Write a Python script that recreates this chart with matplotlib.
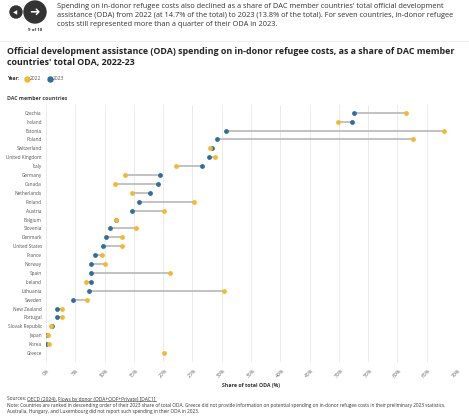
import numpy as np
import matplotlib.pyplot as plt
from matplotlib.patches import Circle
from matplotlib.lines import Line2D

plt.rcParams['font.family'] = ['Open Sans', 'DejaVu Sans']

# donnees (part de l'APD totale, %)
countries = ['Czechia', 'Ireland', 'Estonia', 'Poland', 'Switzerland', 'United Kingdom',
             'Italy', 'Germany', 'Canada', 'Netherlands', 'Finland', 'Austria', 'Belgium',
             'Slovenia', 'Denmark', 'United States', 'France', 'Norway', 'Spain', 'Iceland',
             'Lithuania', 'Sweden', 'New Zealand', 'Portugal', 'Slovak Republic', 'Japan',
             'Korea', 'Greece']
share_2022 = [61.4, 49.9, 68.0, 62.6, 28.0, 28.8, 22.2, 13.5, 11.8, 14.6, 25.3, 20.1, 12.0,
              15.4, 12.9, 12.9, 9.6, 10.0, 21.2, 6.8, 30.4, 7.0, 2.7, 2.7, 0.8, 0.3, 0.45, 20.2]
share_2023 = [52.6, 52.3, 30.8, 29.2, 28.3, 27.9, 26.7, 19.5, 19.1, 17.7, 15.9, 14.7, 11.9,
              11.0, 10.2, 9.7, 8.3, 7.7, 7.6, 7.6, 7.3, 4.6, 1.8, 1.8, 1.0, 0.2, 0.05, np.nan]
xticks = np.arange(0, 75, 5)
xticklabels = ['%d%%' % v for v in xticks]

c22 = '#F5B82A'
c23 = '#2E6E9E'
W, H = 469, 418

fig = plt.figure(figsize=(W/100, H/100), dpi=100)

def fx(px):
    return px / W

def fy(py):
    return 1 - py / H

# --- en-tete (boutons + texte) ---
# cercles en pouces (dpi_scale_trans) pour garder la forme ronde
fig.add_artist(Circle((16/100, (H-12)/100), 6/100, transform=fig.dpi_scale_trans, color='#333333'))
fig.add_artist(Circle((35/100, (H-12)/100), 11/100, transform=fig.dpi_scale_trans, color='#333333'))
fig.text(fx(15.5), fy(12.5), '◀', color='white', fontsize=4, ha='center', va='center',
         family=['DejaVu Sans'])
fig.text(fx(35), fy(12.5), '➜', color='white', fontsize=9, ha='center', va='center',
         family=['DejaVu Sans'])
fig.text(fx(35), fy(30), '9 of 10', fontsize=3.2, ha='center', va='center',
         color='#333333', weight='bold')
para = ("Spending on in-donor refugee costs also declined as a share of DAC member countries' total official development\n"
        "assistance (ODA) from 2022 (at 14.7% of the total) to 2023 (13.8% of the total). For seven countries, in-donor refugee\n"
        "costs still represented more than a quarter of their ODA in 2023.")
fig.text(fx(57), fy(3), para, fontsize=5.3, ha='left', va='top', color='#333333',
         linespacing=1.35)
fig.add_artist(Line2D([0, 1], [fy(41), fy(41)], color='#eeeeee', lw=0.8,
                      transform=fig.transFigure))

fig.text(fx(7), fy(46.5), "Official development assistance (ODA) spending on in-donor refugee costs, as a share of DAC member\n"
         "countries' total ODA, 2022-23", fontsize=6.4, weight='bold', ha='left', va='top',
         color='#222222', linespacing=1.35)

# legende
fig.text(fx(7), fy(79), 'Year:', fontsize=3.5, weight='bold', ha='left', va='center', color='#333333')
fig.add_artist(Line2D([fx(26.5)], [fy(79)], marker='o', ms=3.6, color=c22, transform=fig.transFigure))
fig.text(fx(29.8), fy(79), '2022', fontsize=3.5, ha='left', va='center', color='#555555')
fig.add_artist(Line2D([fx(49.5)], [fy(79)], marker='o', ms=3.6, color=c23, transform=fig.transFigure))
fig.text(fx(52.8), fy(79), '2023', fontsize=3.5, ha='left', va='center', color='#555555')

fig.text(fx(7), fy(98.5), 'DAC member countries', fontsize=3.8, weight='bold', ha='left',
         va='center', color='#444444')

# --- graphique principal ---
ax = fig.add_axes([fx(46), fy(362), (456 - 46) / W, (362 - 105) / H])
y = np.arange(len(countries))
for i in range(len(countries)):
    if not np.isnan(share_2023[i]):
        ax.plot([share_2022[i], share_2023[i]], [y[i], y[i]], color='#b8b8b8', lw=1.2,
                zorder=2, solid_capstyle='butt')
ax.scatter(share_2023, y, s=12, color=c23, zorder=3, linewidths=0)
ax.scatter(share_2022, y, s=12, color=c22, zorder=4, linewidths=0)

ax.set_xlim(0, 70)
ax.set_ylim(28.0, -0.87)
ax.set_yticks(y)
ax.set_yticklabels(countries)
ax.set_xticks(xticks)
ax.set_xticklabels(xticklabels, rotation=45)
ax.tick_params(axis='y', length=0, pad=3, labelsize=3.4, labelcolor='#555555')
ax.tick_params(axis='x', length=0, pad=4, labelsize=3.7, labelcolor='#666666')
for lab in ax.get_xticklabels():
    lab.set_ha('center')
    lab.set_va('top')
ax.grid(axis='x', color='#ebebeb', lw=0.7)
ax.set_axisbelow(True)
for s in ax.spines.values():
    s.set_visible(False)

fig.text(fx(251), fy(385), 'Share of total ODA (%)', fontsize=3.8, weight='bold',
         ha='center', va='center', color='#333333')

# --- sources et note ---
src_parts = [('Sources: ', False), ('OECD (2024)', True), (', ', False),
             ('Flows by donor (ODA+OOF+Private) [DAC1]', True)]
renderer = fig.canvas.get_renderer()
xpos = fx(7)
for txt, ul in src_parts:
    t = fig.text(xpos, fy(399), txt, fontsize=3.5, ha='left', va='center', color='#333333')
    bb = t.get_window_extent(renderer=renderer).transformed(fig.transFigure.inverted())
    if ul:
        fig.add_artist(Line2D([bb.x0, bb.x1], [bb.y0 + 0.002, bb.y0 + 0.002], color='#333333',
                              lw=0.4, transform=fig.transFigure))
    xpos = bb.x1
note = ("Note: Countries are ranked in descending order of their 2023 share of total ODA. Greece did not provide information on potential spending on in-donor refugee costs in their preliminary 2023 statistics.\n"
        "Australia, Hungary, and Luxembourg did not report such spending in their ODA in 2023.")
fig.text(fx(7), fy(403), note, fontsize=3.45, ha='left', va='top', color='#333333', linespacing=1.3)

fig.savefig('out.png', dpi=100)
